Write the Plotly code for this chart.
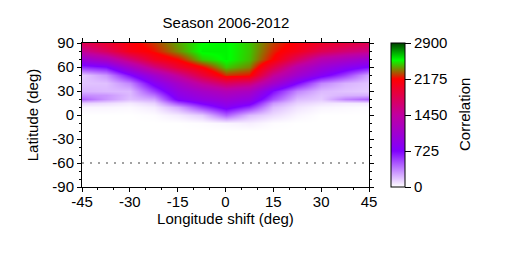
import plotly.graph_objects as go

lons = [-45, -37.5, -30, -22.5, -15, -7.5, 0, 7.5, 15, 22.5, 30, 37.5, 45]
lats = [90, 80, 70, 60, 50, 40, 30, 25, 20, 15, 10, 0, -10, -20, -30, -90]
row_90 = [1800, 1950, 2130, 2260, 2420, 2550, 2570, 2470, 2270, 2130, 2000, 1900, 1800]
row_80 = [1500, 1750, 2070, 2200, 2380, 2570, 2570, 2470, 2230, 2050, 1800, 1650, 1550]
row_70 = [1050, 1250, 1650, 2030, 2190, 2480, 2570, 2460, 2170, 1750, 1350, 1200, 1050]
row_60 = [600, 700, 1150, 1600, 1950, 2170, 2470, 2370, 1850, 1350, 1050, 850, 700]
row_50 = [150, 300, 700, 1100, 1500, 1900, 2250, 2200, 1500, 1100, 800, 550, 250]
row_40 = [170, 180, 350, 800, 1150, 1500, 1750, 1650, 1150, 720, 350, 220, 170]
row_30 = [220, 200, 200, 550, 950, 1150, 1300, 1200, 700, 350, 200, 170, 150]
row_25 = [330, 300, 200, 400, 870, 1050, 1170, 1070, 600, 270, 170, 220, 230]
row_20 = [450, 300, 180, 260, 780, 950, 1050, 950, 500, 200, 150, 350, 450]
row_15 = [130, 100, 60, 130, 500, 750, 930, 800, 300, 130, 80, 60, 60]
row_10 = [30, 30, 20, 60, 250, 550, 800, 600, 200, 80, 30, 20, 10]
row_0 = [0, 0, 0, 10, 60, 150, 450, 200, 100, 30, 0, 0, 0]
row_m10 = [0, 0, 0, 0, 0, 10, 30, 50, 10, 0, 0, 0, 0]
row_m20 = [0] * 13
row_m30 = [0] * 13
row_m90 = [0] * 13
corr = [row_90, row_80, row_70, row_60, row_50, row_40, row_30, row_25, row_20, row_15,
        row_10, row_0, row_m10, row_m20, row_m30, row_m90]

ref_lon = [-45, 45]
ref_lat = [-60, -60]
cb_ticks = [0, 725, 1450, 2175, 2900]
x_ticks = [-45, -30, -15, 0, 15, 30, 45]
x_labels = ["-45", "-30", "-15", "0", "15", "30", "45"]
y_ticks = [-90, -60, -30, 0, 30, 60, 90]
y_labels = ["-90", "-60", "-30", "0", "30", "60", "90"]

FONT = "Liberation Sans"
W, H = 517, 259
OFF = 8  # page body margin
scale = [[0, "#ffffff"], [0.25, "#8000ff"], [0.5, "#c000a0"], [0.75, "#ff0000"],
         [0.88, "#00ff00"], [1, "#004000"]]
tf = dict(family=FONT, size=15, color="black")

fig = go.Figure()
fig.add_trace(go.Heatmap(
    x=lons, y=lats, z=corr, zmin=0, zmax=2900, zsmooth="best", colorscale=scale,
    colorbar=dict(
        x=(391-OFF)/W, xanchor="left", xref="paper", xpad=0, ypad=0,
        len=144/H, lenmode="fraction", y=(H-115+OFF)/H, yanchor="middle", yref="paper",
        thickness=14, thicknessmode="pixels", outlinecolor="black", outlinewidth=1,
        tickvals=cb_ticks, ticks="outside", ticklen=6, tickcolor="black", tickfont=tf,
    ),
    showlegend=False,
))
fig.add_trace(go.Scatter(
    x=ref_lon, y=ref_lat, mode="lines",
    line=dict(color="#444444", width=1.2, dash="2px 6px"),
    showlegend=False, hoverinfo="skip",
))
# carries the mirrored top/right tick marks
fig.add_trace(go.Scatter(x=ref_lon, y=ref_lat, xaxis="x2", yaxis="y2", mode="none",
                         showlegend=False, hoverinfo="skip"))

axis_common = dict(
    showgrid=False, zeroline=False, showline=True, linecolor="black", linewidth=1,
    ticks="outside", ticklen=4, tickcolor="black", tickfont=tf, automargin=False,
)
x_dom = [(82-OFF)/W, (369-OFF)/W]
y_dom = [1-(187-OFF)/H, 1-(43-OFF)/H]
x_minor = dict(dtick=5, ticks="outside", ticklen=2, tickcolor="black")
y_minor = dict(dtick=10, ticks="outside", ticklen=2, tickcolor="black")
fig.update_layout(
    width=W, height=H,
    margin=dict(l=0, r=0, t=0, b=0),
    paper_bgcolor="white", plot_bgcolor="white",
    title=dict(text="Season 2006-2012", x=(226-OFF)/W, xref="paper", xanchor="center", y=1-(23-OFF)/H, yanchor="middle", font=tf),
    xaxis=dict(domain=x_dom, range=[-45, 45], tickvals=x_ticks, ticktext=x_labels, minor=x_minor,
               ticklabelstandoff=-3,
               title=dict(text="Longitude shift (deg)", standoff=0, font=tf), **axis_common),
    yaxis=dict(domain=y_dom, range=[-90, 90], tickvals=y_ticks, ticktext=y_labels, minor=y_minor,
               title=dict(text="Latitude (deg)", standoff=10, font=tf), **axis_common),
    xaxis2=dict(domain=x_dom, range=[-45, 45], anchor="y2", overlaying="x", side="top",
                tickvals=x_ticks, ticktext=[""] * len(x_ticks), minor=x_minor, **axis_common),
    yaxis2=dict(domain=y_dom, range=[-90, 90], anchor="x2", overlaying="y", side="right",
                tickvals=y_ticks, ticktext=[""] * len(y_ticks), minor=y_minor, **axis_common),
    annotations=[dict(text="Correlation", textangle=-90, xref="paper", yref="paper",
                      x=(464-OFF)/W, y=1-(115-OFF)/H, xanchor="center", yanchor="middle",
                      showarrow=False, font=tf)],
)
fig.write_html("out.html")
